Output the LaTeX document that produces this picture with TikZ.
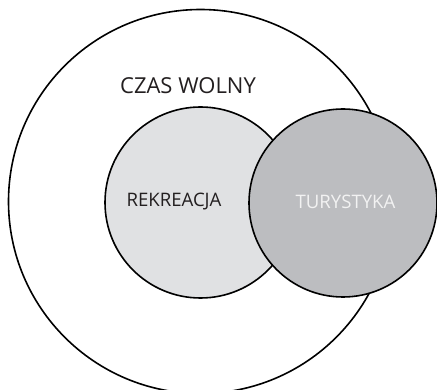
\documentclass[tikz,border=0pt]{standalone}
\usepackage{fontspec}
\setmainfont{Open Sans}
\definecolor{rekfill}{HTML}{E0E1E3}
\definecolor{turfill}{HTML}{BCBDC0}
\definecolor{turtext}{HTML}{F2F2F2}
\definecolor{txt}{HTML}{231F20}
\begin{document}
\begin{tikzpicture}[x=1pt,y=-1pt,
  ring/.style={draw=black,line width=1.6pt,circle,inner sep=0pt},
  lbl/.style={text=txt,inner sep=0pt}]
\useasboundingbox (0,0) rectangle (437,390);
\clip (0,0) rectangle (437,390);
\node[ring,minimum size=384pt] (czas) at (200.5,201.5) {};
\node[ring,fill=rekfill,minimum size=191pt] (rek) at (200.5,202.5) {};
\node[ring,fill=turfill,minimum size=188pt] (tur) at (343,203) {};
\node[lbl,font=\fontsize{22}{26}\selectfont] (czasl) at (188,86) {CZAS WOLNY};
\node[lbl,font=\fontsize{18.6}{22}\selectfont] (rekl) at (174,202) {REKREACJA};
\node[lbl,text=turtext,font=\fontsize{18.6}{22}\selectfont] (turl) at (345.5,202) {TURYSTYKA};
\end{tikzpicture}
\end{document}
